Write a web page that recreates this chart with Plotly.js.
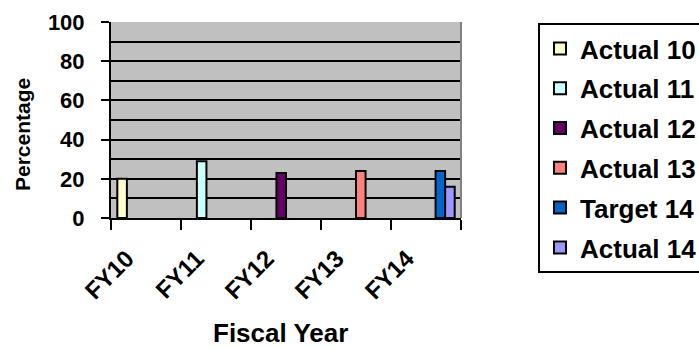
<!DOCTYPE html>
<html>
<head>
<meta charset="utf-8">
<script src="https://cdn.plot.ly/plotly-3.0.1.min.js"></script>
<style>html,body{margin:0;padding:0;background:#fff;}#chart{width:699px;height:349px;}</style>
</head>
<body>
<div id="chart"></div>
<script>
var categories = ['FY10', 'FY11', 'FY12', 'FY13', 'FY14'];
var seriesNames = ['Actual 10', 'Actual 11', 'Actual 12', 'Actual 13', 'Target 14', 'Actual 14'];
var actual10 = [20, null, null, null, null];
var actual11 = [null, 29, null, null, null];
var actual12 = [null, null, 23, null, null];
var actual13 = [null, null, null, 24, null];
var target14 = [null, null, null, null, 24];
var actual14 = [null, null, null, null, 16];
var yTicks = [0, 20, 40, 60, 80, 100];

var seriesValues = [actual10, actual11, actual12, actual13, target14, actual14];
var colors = ['#FFFFCC', '#CCFFFF', '#660066', '#FF8080', '#0066CC', '#9999FF'];
var FONT = 'Arial, "Liberation Sans", sans-serif';

var traces = seriesValues.map(function (vals, i) {
  return {
    type: 'bar',
    name: seriesNames[i],
    x: categories,
    y: vals,
    legendgroup: 'g' + i,
    marker: {color: colors[i], line: {color: '#000', width: 2}},
    hoverinfo: 'none'
  };
});

var layout = {
  width: 699, height: 349,
  margin: {l: 111, r: 238, t: 22, b: 131, autoexpand: false},
  paper_bgcolor: '#fff',
  plot_bgcolor: '#C0C0C0',
  barmode: 'group',
  bargap: 0.18,
  bargroupgap: 0,
  showlegend: true,
  legend: {
    xref: 'container', yref: 'container',
    x: 538 / 699, xanchor: 'left', y: 1 - 23 / 349, yanchor: 'top',
    maxheight: 340,
    bordercolor: '#000', borderwidth: 2, bgcolor: '#fff',
    font: {family: FONT, size: 26, color: '#000', weight: 'bold'},
    tracegroupgap: 3
  },
  xaxis: {
    type: 'category',
    tickson: 'boundaries',
    ticks: 'outside', ticklen: 10, tickwidth: 2, tickcolor: '#000',
    showline: true, linecolor: '#000', linewidth: 2,
    showgrid: false,
    tickangle: -45,
    ticklabelstandoff: 15,
    ticklabelshift: -19,
    tickfont: {family: FONT, size: 24, color: '#000', weight: 'bold'}
  },
  yaxis: {
    range: [0, 100],
    tickvals: yTicks,
    ticktext: yTicks.map(String),
    ticks: 'outside', ticklen: 8, tickwidth: 2, tickcolor: '#000',
    ticklabelstandoff: 12,
    showline: true, linecolor: '#000', linewidth: 2,
    showgrid: true, gridcolor: '#000', gridwidth: 2,
    zeroline: false,
    minor: {dtick: 10, showgrid: true, gridcolor: '#000', gridwidth: 2, ticks: ''},
    tickfont: {family: FONT, size: 22, color: '#000', weight: 'bold'}
  },
  annotations: [{
    text: 'Percentage', textangle: -90, showarrow: false,
    xref: 'paper', yref: 'paper', x: (22.5 - 111) / 350, y: (218 - 134.5) / 196,
    xanchor: 'center', yanchor: 'middle',
    font: {family: FONT, size: 21, color: '#000', weight: 'bold'}
  }, {
    text: 'Fiscal Year', showarrow: false,
    xref: 'paper', yref: 'paper', x: (280 - 111) / 350, y: (218 - 333) / 196,
    xanchor: 'center', yanchor: 'middle',
    font: {family: FONT, size: 26, color: '#000', weight: 'bold'}
  }],
  shapes: [{
    type: 'line', xref: 'paper', yref: 'paper', x0: 1, x1: 1, y0: 0, y1: 1,
    line: {color: '#808080', width: 2}
  }]
};

Plotly.newPlot('chart', traces, layout, {displayModeBar: false, staticPlot: true});
</script>
</body>
</html>
